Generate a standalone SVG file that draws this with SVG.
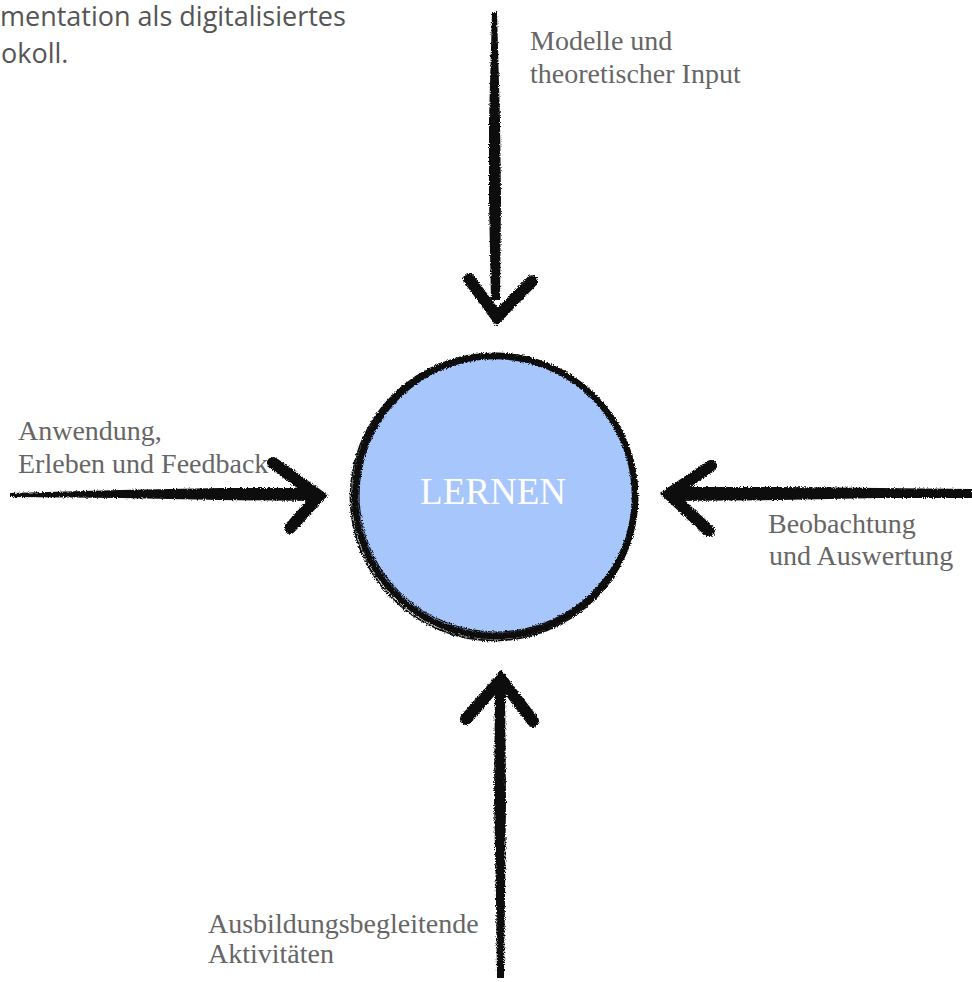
<svg xmlns="http://www.w3.org/2000/svg" width="972" height="982" viewBox="0 0 972 982">
  <style>
    .lbl { font-family: "Liberation Serif", "Times New Roman", serif; font-size: 28px; fill: #666666; }
    .note { font-family: "Open Sans", "Liberation Sans", sans-serif; font-size: 27px; fill: #555555; }
    .center { font-family: "Liberation Serif", "Times New Roman", serif; font-size: 37px; fill: #ffffff; }
    .ink { fill: #111111; }
    .head { fill: none; stroke: #111111; stroke-width: 12; stroke-linejoin: miter; stroke-linecap: round; }
  </style>
  <defs>
    <filter id="rough" filterUnits="userSpaceOnUse" x="0" y="0" width="972" height="982">
      <feTurbulence type="fractalNoise" baseFrequency="0.9" numOctaves="2" seed="4" result="n"/>
      <feDisplacementMap in="SourceGraphic" in2="n" scale="4" xChannelSelector="R" yChannelSelector="G"/>
    </filter>
  </defs>
  <rect width="972" height="982" fill="#ffffff"/>

  <g id="note">
    <text class="note" x="0" y="26">mentation als digitalisiertes</text>
    <text class="note" x="1" y="63">okoll.</text>
  </g>

  <g id="connectors" filter="url(#rough)">
    <g id="arrow-top">
      <path class="ink" d="M492,12 L497,12 L500,120 L501,200 L500,300 L491,300 L489,200 L489,120 Z"/>
      <polyline class="head" points="469,279 497,317 532,281"/>
    </g>
    <g id="arrow-left">
      <path class="ink" d="M10,493 L120,490 L220,488 L312,488 L312,501 L220,500 L120,498 L10,497 Z"/>
      <polyline class="head" points="273,463 319,496 290,528"/>
    </g>
    <g id="arrow-right">
      <path class="ink" d="M672,487 L780,487 L880,488 L972,489 L972,498 L880,498 L780,500 L672,501 Z"/>
      <polyline class="head" points="711,466 669,494 709,531"/>
    </g>
    <g id="arrow-bottom">
      <path class="ink" d="M495,685 L505,685 L506,800 L505,900 L504,978 L497,978 L496,900 L494,800 Z"/>
      <polyline class="head" points="466,719 501,679 533,721"/>
    </g>
  </g>

  <g id="node-lernen">
    <circle cx="495" cy="496" r="140" fill="#a7c6fc"/>
    <g filter="url(#rough)" fill="none" stroke="#111111">
      <circle cx="495" cy="496" r="140" stroke-width="6.5"/>
      <circle cx="494" cy="497" r="143.5" stroke-width="1.8"/>
      <circle cx="496" cy="495" r="137" stroke-width="1.2"/>
    </g>
    <text class="center" x="493" y="504" text-anchor="middle">LERNEN</text>
  </g>

  <g id="label-top">
    <text class="lbl" x="530" y="50">Modelle und</text>
    <text class="lbl" x="530" y="83">theoretischer Input</text>
  </g>
  <g id="label-left">
    <text class="lbl" x="18" y="440">Anwendung,</text>
    <text class="lbl" x="18" y="473">Erleben und Feedback</text>
  </g>
  <g id="label-right">
    <text class="lbl" x="768" y="533">Beobachtung</text>
    <text class="lbl" x="769" y="565">und Auswertung</text>
  </g>
  <g id="label-bottom">
    <text class="lbl" x="208" y="933">Ausbildungsbegleitende</text>
    <text class="lbl" x="208" y="963">Aktivitäten</text>
  </g>
</svg>
